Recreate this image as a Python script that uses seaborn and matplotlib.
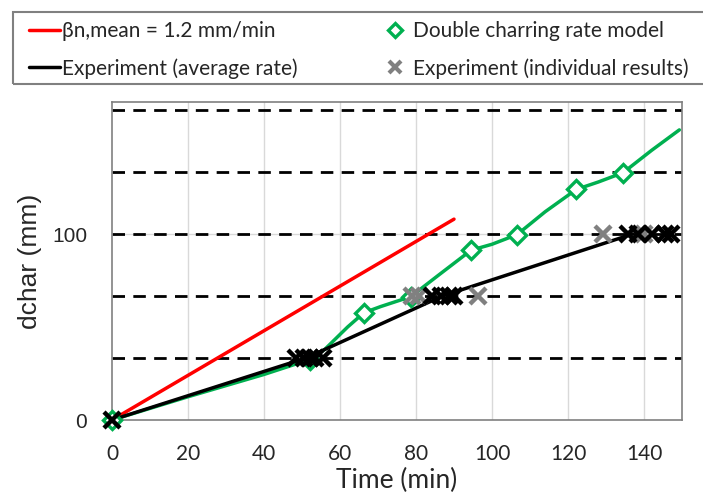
import matplotlib
matplotlib.use("Agg")
import matplotlib.pyplot as plt
from matplotlib.lines import Line2D
from matplotlib.patches import Rectangle
import seaborn as sns

# ---- data ----------------------------------------------------------------- #
red_t = [0, 90]                                   # beta_n,mean = 1.2 mm/min
red_d = [0, 108]
avg_t = [0, 51, 87, 137]                          # experiment average rate
avg_d = [0, 33.3, 66.7, 100]
model_t = [0, 20, 40, 52, 56, 62, 66.3, 70.7, 78.6, 86, 94.5, 100, 106.6, 114, 122.2, 128, 134.5, 142, 149.3]
model_d = [0, 12.5, 24.5, 32.5, 38, 50, 57.7, 61, 66.3, 78, 91.3, 94.5, 99.7, 112, 124, 128, 133, 145, 156]
mark_t = [0, 52, 66.3, 78.6, 94.5, 106.6, 122.2, 134.5]   # diamonds on model curve
mark_d = [0, 32.5, 57.7, 66.3, 91.3, 99.7, 124, 133]
black_t = [0, 48.5, 50.5, 52, 53.5, 55.5, 84.3, 86.5, 88.6, 90, 135.8, 138.4, 142, 145.4, 147.2]
black_d = [0, 33.3, 33.3, 33.3, 33.3, 33.3, 66.7, 66.7, 66.7, 66.7, 100, 100, 100, 100, 100]
gray_t = [79.0, 80.8, 96.2, 129.2, 140]
gray_d = [66.7, 66.7, 66.7, 100, 100]
levels = [33.3, 66.7, 100, 133.3, 166.7]          # dashed char depth levels
xticks = [0, 20, 40, 60, 80, 100, 120, 140]
yticks = [0, 100]

GREEN = '#00B050'
GRAY = '#808080'

sns.set_style('white')
fig = plt.figure(figsize=(7.03, 4.98), dpi=100)
ax = fig.add_axes([112/703, 1-420/498, (682-112)/703, (420-102)/498])

for x in xticks[1:]:                                       # light vertical grid
    ax.axvline(x, color='#d9d9d9', lw=1, zorder=0)
ax.axhline(100, color='#d9d9d9', lw=1, zorder=0)
for lv in levels:                                          # dashed horizontal levels
    ax.axhline(lv, color='black', lw=2, ls=(0, (4.5, 3)), zorder=1)

sns.lineplot(x=red_t, y=red_d, color='#FF0000', lw=2.5, ax=ax, zorder=3)
sns.lineplot(x=model_t, y=model_d, color=GREEN, lw=2.5, ax=ax, zorder=3, sort=False)
sns.lineplot(x=avg_t, y=avg_d, color='black', lw=2.5, ax=ax, zorder=4, sort=False)
ax.plot(mark_t, mark_d, ls='none', marker='D', ms=9, mfc='white', mec=GREEN, mew=2.4, zorder=5, clip_on=False)
ax.plot(gray_t, gray_d, ls='none', marker='x', ms=11, mec=GRAY, mew=3.2, zorder=6, clip_on=False)
ax.plot(black_t, black_d, ls='none', marker='x', ms=11, mec='black', mew=3.2, zorder=7, clip_on=False)

ax.set_xlim(0, 150)
ax.set_ylim(0, 171)
ax.set_xticks(xticks)
ax.set_yticks(yticks)
for s in ax.spines.values():
    s.set_color(GRAY)
    s.set_linewidth(1.2)
ax.tick_params(axis='both', direction='out', length=8, width=1, color=GRAY)
ax.tick_params(axis='x', pad=9)
ax.tick_params(axis='y', pad=10)
for lab in ax.get_xticklabels():
    lab.set_fontfamily('Lato')
    lab.set_fontsize(15)
for lab in ax.get_yticklabels():
    lab.set_fontfamily('Liberation Sans')
    lab.set_fontsize(15)
ax.set_xlabel('Time (min)', fontfamily='Lato', fontsize=19, labelpad=3)
ax.set_ylabel('dchar (mm)', fontfamily='Liberation Sans', fontsize=19, labelpad=7)

# legend box drawn as its own frame, entries placed inside it
fig.patches.append(Rectangle((12.7/703, 1-84/498), (705-12.7)/703, 72/498, transform=fig.transFigure,
                             fill=False, edgecolor=GRAY, lw=1.5))
handles = [Line2D([], [], color='#FF0000', lw=2.5),
           Line2D([], [], color='black', lw=2.5),
           Line2D([], [], ls='none', marker='D', ms=7, mfc='white', mec=GREEN, mew=2.4),
           Line2D([], [], ls='none', marker='x', ms=9, mec=GRAY, mew=3)]
labels = ['βn,mean = 1.2 mm/min', 'Experiment (average rate)',
          'Double charring rate model', 'Experiment (individual results)']
leg = fig.legend(handles, labels, ncol=2, loc='upper left', bbox_to_anchor=(29/703, 1-21/498),
                 prop={'family': 'Lato', 'size': 15}, frameon=False,
                 handlelength=1.5, handletextpad=0.1, labelspacing=0.82,
                 columnspacing=3.9, borderpad=0, borderaxespad=0)

fig.savefig('out.png', dpi=100)
